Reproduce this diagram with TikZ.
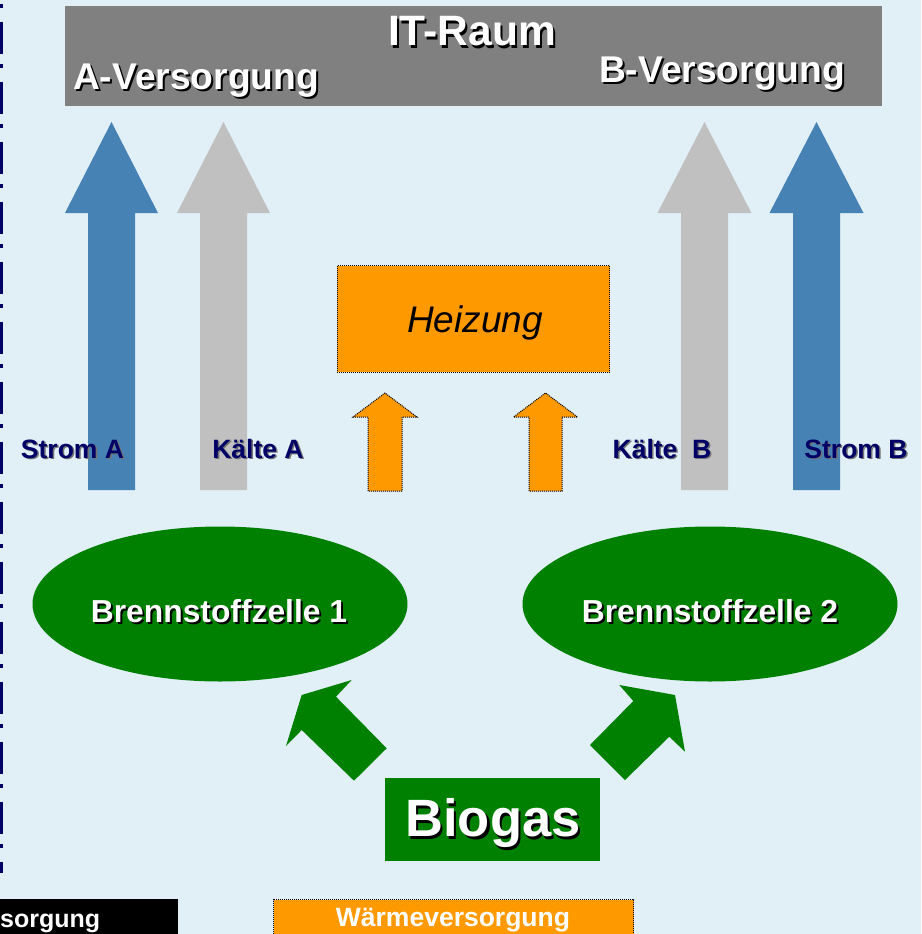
\documentclass[tikz,border=0pt]{standalone}
\usepackage{fontspec}
\setmainfont{Liberation Sans}
\usepackage{xcolor}
\definecolor{bgblue}{HTML}{E1EFF7}
\definecolor{navy}{HTML}{000066}
\definecolor{steel}{HTML}{4682B4}
\definecolor{silver}{HTML}{C0C0C0}
\definecolor{boxgray}{HTML}{808080}
\definecolor{heat}{HTML}{FF9900}
\definecolor{fcgreen}{HTML}{008000}
\usetikzlibrary{shapes.geometric,positioning}

% text with a drop shadow: shadow colour, offset, text
\newcommand{\shtext}[3]{\makebox[0pt][l]{\hspace*{#2}\raisebox{-#2}{\textcolor{#1}{#3}}}#3}
% block arrow pointing up: style, x, tip y, head base y, bottom y, shaft half, head half
\newcommand{\uparrowblock}[7]{\path[#1] (#2-#6,#5) -- (#2-#6,#4) -- (#2-#7,#4) -- (#2,#3)
  -- (#2+#7,#4) -- (#2+#6,#4) -- (#2+#6,#5) -- cycle;}

\tikzset{
  itbox/.style={rectangle, fill=boxgray, inner sep=0pt},
  heatbox/.style={rectangle, fill=heat, draw=black, line width=1pt,
                  dash pattern=on 1pt off 1pt, inner sep=0pt},
  fcell/.style={ellipse, fill=fcgreen, inner sep=0pt,
                minimum width=375pt, minimum height=155pt},
  gasbox/.style={rectangle, fill=fcgreen, inner sep=0pt},
  wtxt/.style={text=white, anchor=base, inner sep=0pt},
  ntxt/.style={text=navy, anchor=base, inner sep=0pt,
               font=\bfseries\fontsize{26.5}{30}\selectfont},
  strom/.style={fill=steel},
  kaelte/.style={fill=silver},
  heatarrow/.style={fill=heat, draw=black, line width=1pt, dash pattern=on 1pt off 1pt},
  gasarrow/.style={fill=fcgreen},
}

\begin{document}
\begin{tikzpicture}[x=1pt, y=-1pt]
  \clip (0,0) rectangle (921,934);
  \fill[bgblue] (0,0) rectangle (921,934);
  \draw[navy, line width=3.3pt, dash pattern=on 4pt off 14pt on 32pt off 10pt] (1.6,4) -- (1.6,873);

  % IT-Raum
  \node[itbox, minimum width=817pt, minimum height=100pt, anchor=north west] (itraum) at (65,6) {};
  \node[wtxt, font=\bfseries\fontsize{42.5}{46}\selectfont] (ittitle) at (472,46) {\shtext{black}{2pt}{IT-Raum}};
  \node[wtxt, font=\bfseries\fontsize{37.2}{41}\selectfont] (versA) at (196,89) {\shtext{black}{2pt}{A-Versorgung}};
  \node[wtxt, font=\bfseries\fontsize{37.2}{41}\selectfont] (versB) at (722,82) {\shtext{black}{2pt}{B-Versorgung}};

  % Versorgungspfeile
  \uparrowblock{strom}{111.5}{122}{213}{490}{23.5}{46.5}
  \uparrowblock{kaelte}{223.5}{122}{213}{490}{23.5}{46.5}
  \uparrowblock{kaelte}{704.5}{122}{213}{490}{23.5}{47}
  \uparrowblock{strom}{816.5}{122}{213}{490}{23.5}{47}

  % Heizung
  \node[heatbox, minimum width=272.6pt, minimum height=106.7pt, anchor=north west] (heizung) at (336.7,265) {};
  \node[anchor=base, inner sep=0pt, font=\itshape\fontsize{37}{41}\selectfont] (heiztxt) at (475,332) {Heizung};
  \uparrowblock{heatarrow}{385}{393}{417}{491}{17}{32}
  \uparrowblock{heatarrow}{545.5}{393}{417}{491}{16.5}{32}

  \node[ntxt] (stromA) at (72.5,458) {\shtext{black!55}{1.5pt}{Strom A}};
  \node[ntxt] (kaelteA) at (258,458) {\shtext{black!55}{1.5pt}{Kälte A}};
  \node[ntxt] (kaelteB) at (662,458) {\shtext{black!55}{1.5pt}{Kälte\ \ B}};
  \node[ntxt] (stromB) at (856,458) {\shtext{black!55}{1.5pt}{Strom B}};

  % Brennstoffzellen
  \node[fcell] (bz1) at (220,604) {};
  \node[fcell] (bz2) at (710,604) {};
  \node[wtxt, font=\bfseries\fontsize{31.8}{35}\selectfont] (bz1txt) at (219,622.5) {\shtext{black}{2pt}{Brennstoffzelle 1}};
  \node[wtxt, font=\bfseries\fontsize{31.8}{35}\selectfont] (bz2txt) at (710,622.5) {\shtext{black}{2pt}{Brennstoffzelle 2}};

  % Biogas
  \fill[gasarrow] (301.7,695) -- (351.7,680) -- (336,696.7) -- (386.7,748.3)
    -- (354,780.7) -- (301.7,730) -- (286,746) -- cycle;
  \fill[gasarrow] (675,695) -- (619.3,685) -- (633.3,701) -- (590,745)
    -- (625,780) -- (669.3,736.7) -- (685,751.7) -- cycle;
  \node[gasbox, minimum width=215pt, minimum height=83pt] (biogas) at (492.5,819.5) {};
  \node[wtxt, font=\bfseries\fontsize{52.5}{58}\selectfont] (biogastxt) at (493,836.5) {\shtext{black}{2.5pt}{Biogas}};

  % Legende
  \node[rectangle, fill=black, inner sep=0pt, minimum width=188pt, minimum height=45pt, anchor=north west] (stromvers) at (-10,899) {};
  \node[text=white, anchor=base west, inner sep=0pt, font=\bfseries\fontsize{25}{28}\selectfont] (stromverstxt) at (0,927) {sorgung};
  \node[heatbox, minimum width=360pt, minimum height=45pt, anchor=north west] (waerme) at (273,899) {};
  \node[wtxt, font=\bfseries\fontsize{26.5}{30}\selectfont] (waermetxt) at (453,926) {Wärmeversorgung};
\end{tikzpicture}
\end{document}
